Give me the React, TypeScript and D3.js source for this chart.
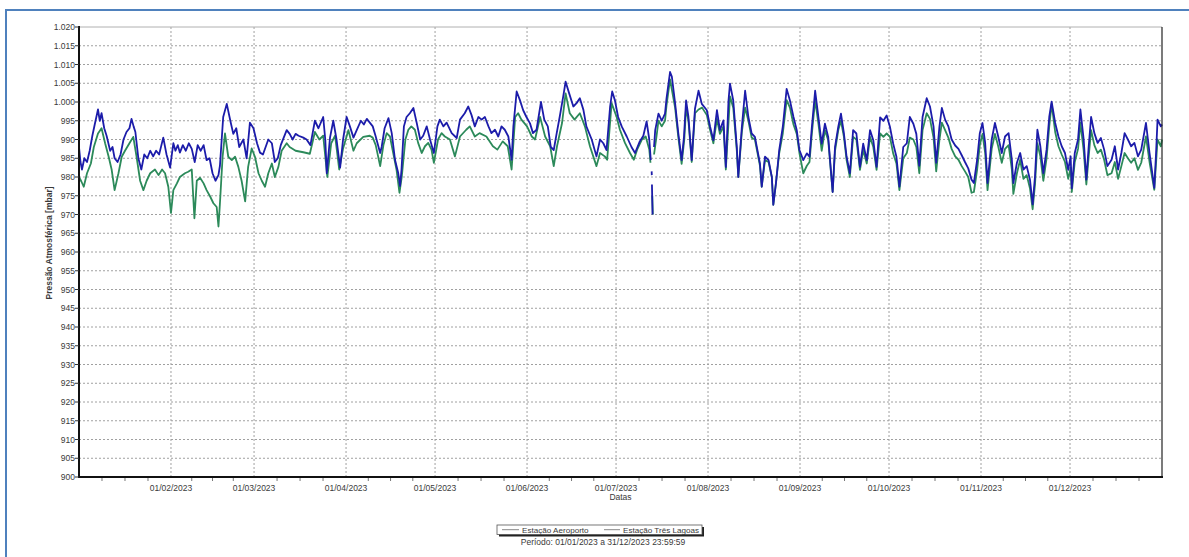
import React from 'react';
import * as d3 from 'd3';

const W = 1189;
const H = 557;
const YEAR_START = new Date(2023, 0, 1);
const YEAR_END = new Date(2024, 0, 1);
const Y_TICKS = d3.range(900, 1021, 5);
const SERIES_NAMES = ['Estação Aeroporto', 'Estação Três Lagoas'];
const X_TITLE = 'Datas';
const Y_TITLE = 'Pressão Atmosférica [mbar]';
const PERIOD = 'Período: 01/01/2023 a 31/12/2023 23:59:59';

// [day of year (0 = 01/01/2023), pressure mbar]; null = gap in record
const aeroporto: [number, number | null][] = [
  [0, 988], [0.5, 984], [1, 982], [1.8, 985], [2.7, 984], [3.6, 987], [4.5, 991], [5.3, 994], [6.4, 998], [7, 995],
  [7.6, 997], [8.5, 993], [9.3, 991], [10.5, 987], [11.3, 988], [12, 985], [13, 984], [14, 986], [15, 990], [16, 992],
  [17, 993], [17.7, 995.5], [18.4, 993.5], [19, 992], [20, 985], [21, 982], [22, 986], [23, 985], [24, 987], [25, 985.5],
  [26, 987], [27, 986], [28.4, 990.5], [29.5, 986], [30.7, 982.5], [31.8, 989], [32.5, 987], [33.3, 988.5], [34, 986.5], [35, 988.5],
  [36, 987], [37, 989], [38, 987.5], [39, 984], [40, 988.5], [41, 987], [42, 988.5], [43, 984.5], [44, 985], [45, 981],
  [46, 979], [47, 980.5], [47.5, 983], [48.6, 996], [49.8, 999.5], [51, 995], [52, 991.5], [53, 993], [54, 988], [55.4, 990],
  [56.5, 985], [57.6, 994.5], [58.8, 993], [60, 989], [61, 986.5], [62, 986], [63.8, 990], [65, 989], [66, 984], [67, 985],
  [68, 988.5], [70, 992.5], [71, 991.5], [72, 990], [73, 991.5], [74, 991], [75.6, 990.5], [76.7, 990], [78, 988.5], [79.5, 995],
  [80.7, 993], [82.3, 996], [83, 990], [83.5, 981], [84.6, 990.5], [85.7, 995], [86.8, 990], [88, 982.5], [89, 990], [90.2, 996],
  [91.3, 993.5], [92.5, 990.5], [93.6, 992.5], [95, 995], [96, 994], [97, 995.5], [98, 994.5], [99, 993.5], [100, 990.8], [101.5, 986.4],
  [102, 988], [103, 993], [104.3, 995.7], [105.4, 991.7], [106.5, 984.6], [107.6, 981], [108.2, 977.6], [108.7, 982], [109.5, 993.5], [110.4, 996],
  [111.5, 997], [112.7, 998.4], [113.8, 994.5], [115, 990], [116, 991], [117.2, 993.5], [118.3, 990], [119.6, 986.4], [120.8, 993.5], [121.6, 995.3],
  [122.8, 993.5], [123.9, 994.5], [125.6, 991.7], [127.3, 990.4], [128.4, 995.3], [130, 997], [131.2, 998.8], [132.3, 996.5], [133.4, 993.5], [134.6, 996],
  [135.7, 995.3], [136.8, 996], [138, 993.5], [139, 991.7], [140.2, 992.6], [141.3, 990.8], [142.4, 993.5], [143.5, 992.6], [144.7, 990.8], [145.8, 984.6],
  [146.4, 993.5], [147.5, 1002.8], [148.6, 1000.5], [149.7, 997.8], [150.8, 996], [152, 994.3], [153, 991.7], [154.2, 992.6], [155.7, 1000], [156.8, 995.3],
  [158, 993.5], [159, 988], [160, 987.2], [161, 991.7], [162, 996], [163.2, 1001.5], [164, 1005.4], [165.2, 1002.3], [166.6, 998.8], [167.7, 999.7],
  [168.8, 1001], [170, 997.9], [171, 993.5], [172.8, 990], [174.4, 985.5], [175.6, 990], [176.7, 989], [177.8, 987.2], [179, 998.8], [179.7, 1002.8],
  [180.6, 1000.5], [181.7, 996], [182.9, 993.5], [184.6, 990.8], [186.2, 988], [187.4, 986.4], [189, 989.5], [190.2, 991], [191.3, 994.8], [192.2, 990],
  [192.7, 984.5], [192.8, null], [193.0, 981.5], [193.05, 980.5], [193.08, null], [193.1, 978], [193.3, 970], [193.5, null],
  [193.8, 988], [194.2, 992.5], [195.3, 996.9], [196.4, 995], [197.5, 996.9], [198, 1000.9], [199.2, 1008], [199.8, 1006.8], [200.9, 999.7], [202, 991.6],
  [203.1, 984.5], [203.9, 990.8], [204.6, 1000.4], [205.4, 996], [206.5, 984.5], [207.6, 998.2], [208.8, 1003], [209.9, 999.5], [211.6, 997.8], [212.7, 993.4],
  [213.8, 989.8], [215, 997.8], [216, 992.5], [217.2, 995.1], [218, 982.7], [218.9, 1000.4], [219.4, 1004.9], [220.5, 1000.4], [221.7, 988], [222.2, 980],
  [223.4, 993.4], [224.5, 1003], [225.6, 996], [226.7, 991.6], [227.8, 990.7], [229.5, 983.6], [230.1, 977.4], [231.2, 985.4], [232.4, 984.5], [233.5, 980],
  [234, 972.6], [234.9, 978.4], [236, 987.2], [237.2, 993.4], [238.5, 1003.5], [239.6, 1000.4], [240.8, 996], [241.9, 992.5], [242.8, 987.2], [244.1, 984.5],
  [245.3, 986.3], [246.2, 985.4], [247, 993.4], [248.1, 1003], [249.2, 996], [250.3, 988.9], [251.4, 994.2], [252.5, 990.7], [254, 976], [254.8, 988],
  [255.9, 993.4], [256.8, 996.9], [257.8, 991.6], [258.7, 985.4], [259.8, 981], [260.9, 992.5], [262, 991.6], [263.2, 982.7], [264.3, 988.9], [265.5, 984.5],
  [266.6, 992.5], [267.7, 989.8], [268.8, 982.7], [270, 995.9], [271.1, 995], [272.2, 996.4], [273.3, 993.4], [274.4, 988.9], [275.5, 985.4], [276.5, 977.4],
  [277.8, 988], [279, 989], [280, 996], [281.2, 994.2], [282.2, 991.5], [283.2, 983], [284.3, 996], [285.7, 1001], [286.8, 998.8], [288, 993.5],
  [288.9, 983.8], [290, 993.5], [290.8, 998.4], [291.9, 995.3], [293, 993.5], [294.1, 990], [295.3, 988.4], [296.4, 987.5], [297.5, 985.8], [298.6, 984],
  [299.7, 982.3], [300.8, 979.3], [301.6, 978.4], [302.7, 984.6], [303.6, 991.7], [304.5, 994.4], [305.4, 989.1], [306.2, 978.4], [307.6, 990], [308.7, 994.4],
  [309.8, 990.8], [311, 986.4], [312.1, 990.8], [313.3, 991.7], [314.4, 984.6], [314.9, 978.4], [316.1, 983.8], [317.2, 986.4], [318.3, 982], [319.4, 982.9],
  [320.5, 979.3], [321.4, 972.7], [322.2, 980.2], [323, 992.6], [324, 988.2], [325, 981], [326.1, 987.3], [327, 996], [327.8, 1000.1], [329, 994.4],
  [330.1, 990.8], [331.2, 988.2], [332.3, 986.4], [333.4, 981.9], [334.2, 985.5], [334.6, 977], [335.6, 986.4], [336.7, 990], [337.5, 998], [338.6, 990],
  [339.5, 979.3], [340.3, 988.2], [341.1, 996], [342.2, 991.7], [343.3, 989.1], [344.4, 990.4], [345.5, 987.3], [346.6, 982.9], [348, 984.6], [349.1, 988.2],
  [350.2, 982], [351.3, 986.4], [352.4, 991.7], [353.5, 990], [354.6, 988.2], [355.7, 989.1], [356.9, 985.5], [358, 987.3], [359.6, 994.4], [360.8, 986.4],
  [362.4, 977.1], [363, 986.4], [363.5, 995.3], [364.6, 993.5], [365, 994],
];

const tresLagoas: [number, number | null][] = [
  [0, 980], [0.8, 978.8], [1.6, 977.4], [2.7, 981], [4, 983.6], [5, 988], [6.4, 991.6], [7.6, 993], [8.8, 989], [10, 985.4],
  [11, 982], [12, 976.5], [13.3, 981], [14.4, 985.4], [15.5, 987], [17, 989], [18.3, 990.7], [19.4, 985.4], [20.6, 979], [21.7, 976.5],
  [22.8, 979], [24, 981], [25.6, 982], [26.8, 980.5], [28, 982], [29, 981], [30.1, 977.4], [31, 970.4], [31.8, 976.5], [33, 978.3],
  [34, 980], [35.7, 981], [36.8, 981.4], [38, 982], [38.9, 969], [39.7, 979], [40.8, 979.8], [42, 978.3], [43, 976.5], [44.2, 974.8],
  [45.3, 973], [46.4, 972], [47, 966.8], [47.5, 973], [48.4, 985.4], [49.2, 991.6], [50.3, 985.4], [51.5, 984.5], [52.6, 985.4], [53.7, 982.7],
  [54.8, 979], [56, 973.5], [57, 982.7], [58.2, 987.6], [59.3, 985.4], [60.5, 981], [61.6, 979], [62.7, 977.4], [63.8, 981], [65, 983.6],
  [66, 980], [67.2, 982.7], [68.3, 987], [70, 989], [71, 988], [73, 987], [75.6, 986.6], [77.8, 986.2], [79.5, 992], [81, 990],
  [82.3, 991], [83.7, 980], [85, 989], [86.3, 991], [87.7, 982], [89, 987.6], [90.8, 992.5], [92.5, 987], [93.6, 989], [95.8, 990.7],
  [98, 991], [99, 990.5], [100, 988.5], [101.5, 982.9], [102.6, 988.5], [103.7, 991.7], [104.8, 990.8], [105.9, 986.4], [107, 982], [108, 975.8],
  [108.8, 980.2], [110, 990], [111, 992.6], [112, 993.5], [113.2, 992.6], [114.3, 989.1], [115.5, 986.4], [116.6, 988.2], [117.7, 989.1], [118.8, 987.3],
  [119.6, 983.8], [121, 990], [122.2, 991.7], [123.3, 990.8], [125, 990], [126.7, 985.5], [128.4, 990.8], [130.5, 992.6], [131.7, 993.5], [133.4, 990.8],
  [135, 991.7], [137.3, 990.8], [139.5, 988.2], [141, 987.3], [142.8, 989.5], [144.5, 988.2], [145.8, 982], [147, 996], [148, 997], [149.1, 995.3],
  [151, 993.5], [152.6, 990.8], [153.7, 990], [155.4, 996], [157.1, 990.8], [158.8, 988.2], [160, 982.9], [161.1, 988.2], [162.8, 994.4], [164, 1002.3],
  [165.4, 997], [167, 995.3], [168.8, 997], [170.5, 993.5], [172.2, 988.2], [174.4, 982.9], [175.6, 986.4], [177.2, 985.5], [178, 984.6], [179.5, 999.7],
  [181.2, 996], [182.3, 992.6], [184, 989.1], [185.7, 986.4], [187, 984.6], [188.1, 987.3], [189.7, 990], [191, 990.8], [192.2, 987.3], [192.6, 983.8],
  [192.8, null], [193.2, 975], [193.4, 970], [193.6, null],
  [193.8, 986], [194.5, 990], [195.3, 995], [196.4, 993.5], [197.5, 995], [198, 999], [199.2, 1006], [200.9, 998.5], [202, 990.5], [203.1, 983.5],
  [204, 990], [204.6, 998.5], [205.4, 995], [206.5, 984], [207.6, 997], [208.8, 998], [210, 998.5], [211.6, 996.5], [212.7, 992.5], [213.8, 989],
  [215, 995.5], [216, 991.5], [217.2, 993.5], [218, 982], [219.4, 1001.5], [220.5, 998.5], [221.7, 987], [222.2, 980], [223.4, 992], [224.5, 998.5],
  [225.6, 995], [226.7, 990.5], [227.8, 990], [229.5, 983], [230.1, 977.4], [231.2, 984.5], [232.4, 984], [233.5, 980], [234, 972.6], [234.9, 978.4],
  [236, 986.4], [237.2, 991.6], [238.5, 1000.5], [239.6, 998.5], [240.8, 994], [241.9, 991.5], [242.8, 986.4], [244.1, 981], [245.3, 983], [246.2, 984],
  [247, 991.6], [248.1, 1000.5], [249.2, 994.2], [250.3, 987], [251.4, 992.5], [252.5, 989.8], [254, 976], [254.8, 987], [255.9, 992.5], [256.8, 995],
  [257.8, 990.7], [258.7, 984.5], [259.8, 980], [260.9, 990.7], [262, 990], [263.2, 981.9], [264.3, 987.2], [265.5, 983.6], [266.6, 990.7], [267.7, 988],
  [268.8, 981.9], [270, 991.6], [271.1, 990.7], [272.2, 991.6], [273.3, 990.7], [274.4, 986.3], [275.5, 983.6], [276.5, 976.5], [277.8, 985], [279, 986.4],
  [280, 990.5], [281.2, 990], [282.2, 988], [283.2, 981], [284.3, 992.5], [285.7, 997], [286.8, 995.5], [288, 990.5], [288.9, 981.5], [290, 990],
  [290.8, 994.5], [291.9, 992.5], [293, 990.5], [294.1, 987.5], [295.3, 985.5], [296.4, 984.6], [297.5, 982.9], [298.6, 981.5], [299.7, 980], [300.8, 975.8],
  [301.6, 976], [302.7, 982], [303.6, 988.5], [304.5, 991.5], [305.4, 986.4], [306.2, 976.5], [307.6, 987.5], [308.7, 991.5], [309.8, 988.2], [311, 983.8],
  [312.1, 987.5], [313.3, 988.5], [314.4, 982], [314.9, 975.5], [316.1, 981], [317.2, 984.6], [318.3, 979.5], [319.4, 980.5], [320.5, 977], [321.4, 971.4],
  [322.2, 978], [323, 989], [324, 985.5], [325, 979], [326.1, 985], [327, 993.5], [327.8, 999.5], [329, 992], [330.1, 988.2], [331.2, 986],
  [332.3, 984], [333.4, 979.5], [334.2, 982.5], [334.6, 976], [335.6, 984], [336.7, 987.5], [337.5, 994.5], [338.6, 987], [339.5, 978], [340.3, 985.5],
  [341.1, 992.5], [342.2, 988.5], [343.3, 986.4], [344.4, 987.3], [345.5, 984.6], [346.6, 980.5], [348, 981], [349.1, 984], [350.2, 979.5], [351.3, 982.9],
  [352.4, 986.4], [353.5, 985], [354.6, 983.8], [355.7, 985], [356.9, 981.9], [358, 983.8], [359.6, 990.8], [360.8, 984], [362.4, 976.6], [363, 983.8],
  [363.5, 990], [364.6, 988.2], [365, 990],
];

const COLORS = ['#1c1caa', '#2c8a5a'];

const ptLocale = d3.formatLocale({ decimal: ',', thousands: '.', grouping: [3], currency: ['R$', ''] });
const fmtY = ptLocale.format(',d');
const fmtX = d3.timeFormat('%d/%m/%Y');

export default function App() {
  const left = 79, right = 1162, top = 27, bottom = 477;
  const x = d3.scaleTime().domain([YEAR_START, YEAR_END]).range([left, right]);
  const y = d3.scaleLinear().domain([900, 1020]).range([bottom, top]);
  const toDate = (d: number) => new Date(YEAR_START.getTime() + d * 864e5);
  const line = d3
    .line<[number, number | null]>()
    .defined((d) => d[1] != null)
    .x((d) => x(toDate(d[0])))
    .y((d) => y(d[1] as number));

  const months = d3.timeMonth.range(YEAR_START, YEAR_END);
  const monthTicks = months.slice(1);
  const minorTicks: Date[] = [];
  months.forEach((m) => {
    const next = d3.timeMonth.offset(m, 1);
    for (let k = 1; k < 4; k++) {
      minorTicks.push(new Date(m.getTime() + ((next.getTime() - m.getTime()) * k) / 4));
    }
  });

  const font = "'Liberation Sans', Arial, sans-serif";
  const legendY = 530;
  const txt = '#3a3a3a';

  return (
    <svg width={W} height={H} style={{ position: 'fixed', left: 0, top: 0, background: '#fff' }} fontFamily={font}>
      <rect x={0} y={0} width={W} height={H} fill="#fff" />
      <rect x={6} y={10} width={W + 20} height={H + 20} fill="none" stroke="#4f81bd" strokeWidth={2} />

      {/* grid */}
      {Y_TICKS.filter((v) => v > 900 && v < 1020).map((v) => (
        <line key={'gy' + v} x1={left} x2={right} y1={y(v)} y2={y(v)} stroke="#a0a0a0" strokeDasharray="2,2" strokeWidth={1} />
      ))}
      {monthTicks.map((m) => (
        <line key={'gx' + m.getTime()} x1={x(m)} x2={x(m)} y1={top} y2={bottom} stroke="#a0a0a0" strokeDasharray="2,2" strokeWidth={1} />
      ))}

      {/* series */}
      <path d={line(tresLagoas) || ''} fill="none" stroke={COLORS[1]} strokeWidth={1.8} strokeLinejoin="round" />
      <path d={line(aeroporto) || ''} fill="none" stroke={COLORS[0]} strokeWidth={1.8} strokeLinejoin="round" />

      {/* frame */}
      <line x1={left} x2={right} y1={top} y2={top} stroke="#b0b0b0" strokeWidth={1} />
      <line x1={right} x2={right} y1={top} y2={bottom} stroke="#222" strokeWidth={1.2} />
      <line x1={left} x2={left} y1={top - 1} y2={bottom + 1} stroke="#111" strokeWidth={2} />
      <line x1={left - 1} x2={right + 1} y1={bottom} y2={bottom} stroke="#111" strokeWidth={2} />

      {/* y ticks */}
      {Y_TICKS.map((v) => (
        <g key={'ty' + v}>
          <line x1={left - 4} x2={left} y1={y(v)} y2={y(v)} stroke="#333" strokeWidth={1} />
          <text x={left - 4} y={y(v) + 3} textAnchor="end" fontSize={8.5} fill={txt}>
            {fmtY(v)}
          </text>
        </g>
      ))}

      {/* x ticks */}
      {minorTicks.map((m, i) => (
        <line key={'mt' + i} x1={x(m)} x2={x(m)} y1={bottom + 1} y2={bottom + 4} stroke="#777" strokeWidth={1} />
      ))}
      {monthTicks.map((m) => (
        <text key={'tx' + m.getTime()} x={x(m)} y={491} textAnchor="middle" fontSize={8.5} fill={txt}>
          {fmtX(m)}
        </text>
      ))}

      <text x={(left + right) / 2} y={500} textAnchor="middle" fontSize={8.5} fill={txt}>
        {X_TITLE}
      </text>
      <text transform={`translate(52,243) rotate(-90)`} textAnchor="middle" fontSize={8.5} fontWeight="bold" fill={txt}>
        {Y_TITLE}
      </text>

      {/* legend */}
      <rect x={499} y={legendY - 3} width={205} height={9.5} fill="#222" />
      <rect x={497} y={legendY - 5} width={205} height={9.5} fill="#fff" stroke="#555" strokeWidth={0.8} />
      <line x1={502} x2={519} y1={legendY - 0.3} y2={legendY - 0.3} stroke="#888" strokeWidth={1} />
      <text x={522} y={legendY + 2.7} fontSize={8.1} fill={txt}>
        {SERIES_NAMES[0]}
      </text>
      <line x1={604} x2={620} y1={legendY - 0.3} y2={legendY - 0.3} stroke="#888" strokeWidth={1} />
      <text x={623} y={legendY + 2.7} fontSize={8.1} fill={txt}>
        {SERIES_NAMES[1]}
      </text>
      <text x={603} y={545} textAnchor="middle" fontSize={8.5} fill={txt}>
        {PERIOD}
      </text>
    </svg>
  );
}
